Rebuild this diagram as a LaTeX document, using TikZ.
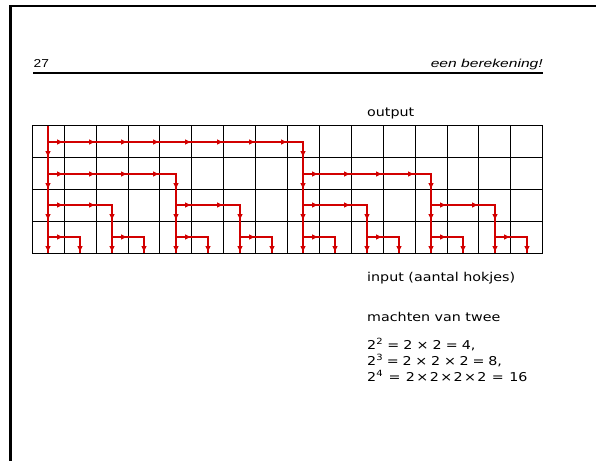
\documentclass[tikz,border=0pt]{standalone}
\usepackage{fontspec}
\setmainfont{DejaVu Sans}
\newfontfamily\hdfont{Liberation Sans}
\usepackage{graphicx}
\definecolor{arr}{RGB}{210,0,0}
\def\gx{32.3}
\def\gy{125.7}
\def\cw{31.9}
\newcommand\harr[2]{\fill[arr] ({round(\gx+(#1+0.5)*\cw)+14.5},{round(\gy+(#2+0.5)*\cw)}) -- ++(-5.5,-2.7) -- ++(0,5.4) -- cycle;}
\newcommand\varr[2]{\fill[arr] ({round(\gx+(#1+0.5)*\cw)},{round(\gy+(#2+0.5)*\cw)+14.5}) -- ++(-2.7,-5.5) -- ++(5.4,0) -- cycle;}
\newcommand\wide[1]{\scalebox{1.17}[1]{#1}}
\newcommand\gapw[1]{\hspace{#1pt}}
\tikzset{
  gridline/.style={black, line width=0.9pt},
  flow/.style={arr, line width=1.8pt},
  txt/.style={inner sep=0pt, anchor=base west, font=\fontsize{12.2}{14}\selectfont},
}
\begin{document}
\begin{tikzpicture}[x=1pt,y=-1pt]
\useasboundingbox (0,0) rectangle (596,461);
% frame
\fill (8.5,5) rectangle (11.5,461);
\fill (8.5,5) rectangle (596,7);
% header
\node[anchor=base west, inner sep=0pt] (pg) at (33.5,67.3) {\resizebox{15.3pt}{\height}{\hdfont\fontsize{11.5}{13}\selectfont 27}};
\node[anchor=base east, inner sep=0pt] (ttl) at (543,67.3) {\resizebox{112pt}{\height}{\hdfont\itshape\fontsize{11.5}{13}\selectfont een berekening!}};
\coordinate (rl) at (33,73);
\coordinate (rr) at (543,73);
\draw[line width=2pt] (rl) -- (rr);
% grid
\foreach \i in {0,...,16} \draw[gridline] ({\gx+\i*\cw},\gy) -- ({\gx+\i*\cw},{\gy+4*\cw});
\foreach \j in {0,...,4} \draw[gridline] (\gx,{\gy+\j*\cw}) -- ({\gx+16*\cw},{\gy+\j*\cw});
% main trunk
\draw[flow] ({round(\gx+0.5*\cw)},\gy) -- ({round(\gx+0.5*\cw)},{\gy+4*\cw});
\foreach \r in {0,...,3} {\varr{0}{\r}}
% branches
\foreach \lev/\s in {0/8,1/4,2/2,3/1} {
  \pgfmathtruncatemacro\nst{16/(2*\s)-1}
  \foreach \m in {0,...,\nst} {
    \pgfmathtruncatemacro\k{\m*2*\s}
    \pgfmathtruncatemacro\e{\k+\s}
    \pgfmathtruncatemacro\f{\e-1}
    \pgfmathtruncatemacro\xa{round(\gx+(\k+0.5)*\cw)}
    \pgfmathtruncatemacro\xb{round(\gx+(\e+0.5)*\cw)}
    \pgfmathtruncatemacro\ya{round(\gy+(\lev+0.5)*\cw)}
    \draw[flow] (\xa,\ya) -- (\xb,\ya) -- (\xb,{\gy+4*\cw});
    \foreach \i in {\k,...,\f} {\harr{\i}{\lev}}
    \foreach \r in {\lev,...,3} {\varr{\e}{\r}}
  }
}
% texts
\node[txt] (out) at (367,116) {\wide{output}};
\node[txt] (inp) at (367,281) {\wide{input (aantal hokjes)}};
\node[txt] (mac) at (367,321) {\wide{machten van twee}};
\node[txt] (m1) at (367,349) {\wide{2\textsuperscript{2}\gapw{3.5}=\gapw{3.5}2\gapw{3.5}×\gapw{3.5}2\gapw{3.5}=\gapw{3.5}4,}};
\node[txt] (m2) at (367,365) {\wide{2\textsuperscript{3}\gapw{3.2}=\gapw{3.2}2\gapw{3.2}×\gapw{3.2}2\gapw{3.2}×\gapw{3.2}2\gapw{3.2}=\gapw{3.2}8,}};
\node[txt] (m3) at (367,381) {\wide{2\textsuperscript{4}\gapw{4.6}=\gapw{4.6}2\gapw{1.2}×\gapw{1.2}2\gapw{1.2}×\gapw{1.2}2\gapw{1.2}×\gapw{1.2}2\gapw{4.6}=\gapw{4.6}16}};
\end{tikzpicture}
\end{document}
